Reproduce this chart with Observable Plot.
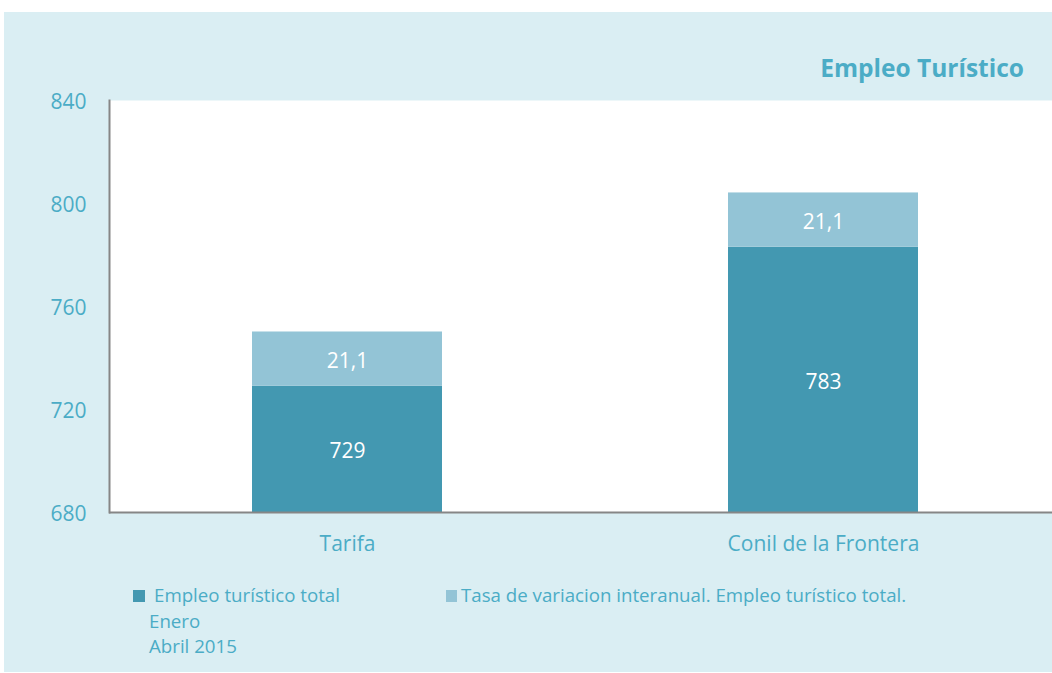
<!DOCTYPE html>
<html><head><meta charset="utf-8">
<script src="https://cdn.jsdelivr.net/npm/d3@7"></script>
<script src="https://cdn.jsdelivr.net/npm/@observablehq/plot@0.6"></script>
<style>
html,body{margin:0;padding:0;background:#fff;width:1052px;height:673px;overflow:hidden;font-family:"Open Sans",sans-serif;}
#panel{position:absolute;left:4px;top:12px;width:1048px;height:660px;background:#daeef3;}
#chart{position:absolute;left:0;top:0;}
#title{position:absolute;right:28px;top:56px;font-size:24.5px;line-height:24px;font-weight:700;color:#4bacc6;white-space:nowrap;}
.leg{position:absolute;font-size:18.7px;line-height:18px;color:#4bacc6;white-space:nowrap;}
.sw{position:absolute;width:12px;height:12px;}
</style></head><body>
<div id="panel"></div>
<div id="chart"></div>
<div id="title"></div>
<div id="legend"></div>
<script>
const municipios = ["Tarifa", "Conil de la Frontera"];
const empleoTotal = [729, 783];
const tasaVariacion = [21.1, 21.1];
const series = ["Empleo turístico total", "Tasa de variacion interanual. Empleo turístico total."];
const colores = ["#4398b1", "#93c4d6"];
const yTicks = [680, 720, 760, 800, 840];
const titulo = "Empleo Turístico";
const notaLeyenda = ["Enero", "Abril 2015"];

const rows = [];
municipios.forEach((m, i) => {
  rows.push({municipio: m, serie: series[0], valor: empleoTotal[i], y1: 0, y2: empleoTotal[i]});
  rows.push({municipio: m, serie: series[1], valor: tasaVariacion[i], y1: empleoTotal[i], y2: empleoTotal[i] + tasaVariacion[i]});
});

const es = d3.formatLocale({decimal: ",", thousands: ".", grouping: [3], currency: ["", " €"]});
const f1 = es.format(".1f");
const fmt = v => Number.isInteger(v) ? String(v) : f1(v);
const yMin = yTicks[0], yMax = yTicks[yTicks.length - 1];

const chart = Plot.plot({
  width: 1052,
  height: 562,
  marginTop: 100,
  marginBottom: 50,
  marginLeft: 109,
  marginRight: 0,
  style: {background: "transparent", fontFamily: "'Open Sans', sans-serif", fontSize: "21px", color: "#4bacc6"},
  x: {domain: municipios, range: [109, 1062], paddingInner: 0.6, paddingOuter: 0.3},
  y: {domain: [yMin, yMax]},
  color: {domain: series, range: colores},
  marks: [
    Plot.frame({fill: "white", stroke: null}),
    Plot.barY(rows, {x: "municipio", y1: "y1", y2: "y2", fill: "serie", clip: true}),
    Plot.text(rows, {x: "municipio", y: d => (Math.max(d.y1, yMin) + d.y2) / 2, text: d => fmt(d.valor), fill: "white", fontSize: 21, dy: 2}),
    Plot.axisY({ticks: yTicks, tickSize: 0, tickPadding: 23, tickFormat: d => String(d), fill: "#4bacc6", fontSize: 21, dy: 2}),
    Plot.axisX({tickSize: 0, tickPadding: 24, fill: "#4bacc6", fontSize: 21, label: null}),
    Plot.frame({anchor: "left", stroke: "#868686", strokeWidth: 2}),
    Plot.ruleY([yMin], {stroke: "#868686", strokeWidth: 2})
  ]
});
document.getElementById("chart").appendChild(chart);
document.getElementById("title").textContent = titulo;

const leg = document.getElementById("legend");
function add(html, style, cls) {
  const d = document.createElement("div");
  d.className = cls;
  Object.assign(d.style, style);
  if (html != null) d.textContent = html;
  leg.appendChild(d);
}
add(null, {left: "133px", top: "590px", background: colores[0]}, "sw");
add(series[0], {left: "154px", top: "586px"}, "leg");
add(notaLeyenda[0], {left: "149px", top: "612px"}, "leg");
add(notaLeyenda[1], {left: "149px", top: "637px"}, "leg");
add(null, {left: "446px", top: "590px", background: colores[1], width: "11px"}, "sw");
add(series[1], {left: "461px", top: "586px"}, "leg");
</script>
</body></html>
